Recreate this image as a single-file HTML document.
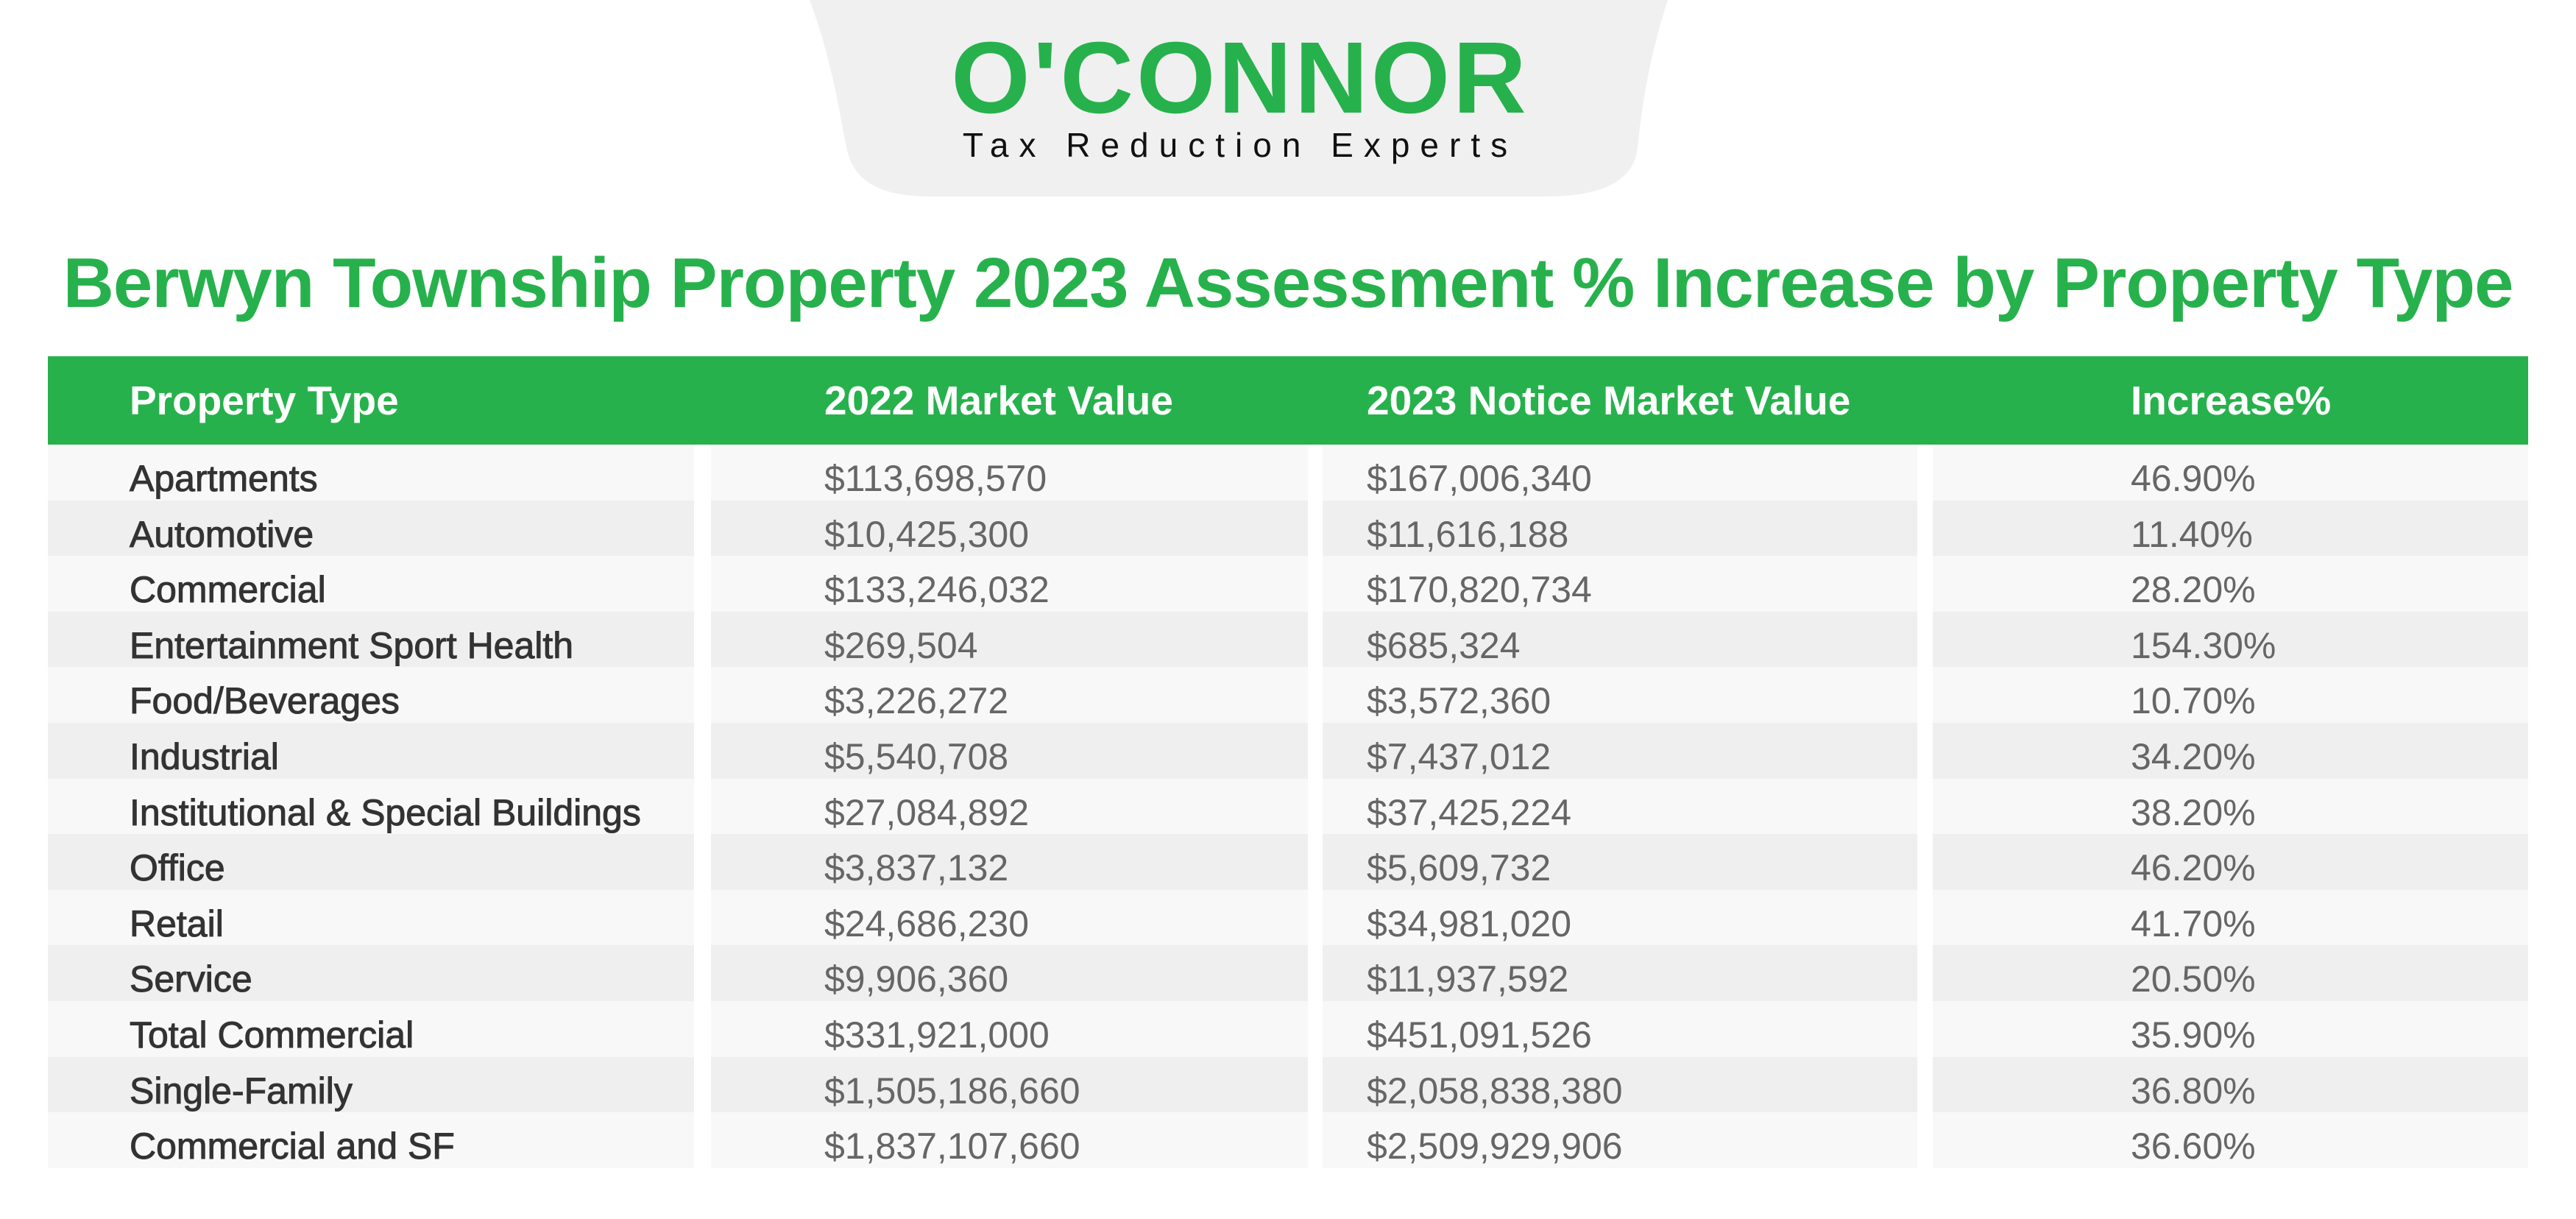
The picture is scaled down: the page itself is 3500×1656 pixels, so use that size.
<!DOCTYPE html>
<html><head><meta charset="utf-8"><style>
html,body{margin:0;padding:0;background:#fff;}
body{width:3500px;height:1656px;position:relative;overflow:hidden;font-family:"Liberation Sans",sans-serif;}
.abs{position:absolute;}
#title{left:0;width:3500px;top:330px;text-align:center;font-weight:bold;font-size:96px;color:#27b14c;white-space:nowrap;letter-spacing:-1px;}
.hdr{top:484px;height:120px;background:#27b14c;left:65px;width:3370px;}
.ht{color:#fff;font-weight:bold;font-size:55px;line-height:120px;top:484px;white-space:nowrap;}
.cell{height:75.6px;}
.txt{font-size:50px;line-height:75.6px;white-space:nowrap;color:#666;margin-top:9px;}
.c1{color:#333;-webkit-text-stroke:1px #333;}
</style></head><body>
<svg class="abs" style="left:0;top:0" width="3500" height="300">
<path d="M1100 0 L2266 0 C2240 80 2230 150 2225 200 C2220 250 2170 267 2098 267 L1268 267 C1200 267 1160 250 1150 200 C1140 150 1130 80 1100 0 Z" fill="#f0f0f0"/>
</svg>
<div class="abs" style="left:1240px;top:36px;width:890px;text-align:center;font-weight:bold;font-size:138px;color:#27b14c;line-height:140px;letter-spacing:4px;">O'CONNOR</div>
<div class="abs" style="left:1250px;top:172px;width:870px;text-align:center;font-size:46px;color:#111;letter-spacing:14px;line-height:50px;">Tax Reduction Experts</div>
<div id="title" class="abs">Berwyn Township Property 2023 Assessment % Increase by Property Type</div>
<div class="abs hdr"></div>
<div class="abs ht" style="left:176px">Property Type</div>
<div class="abs ht" style="left:1120px">2022 Market Value</div>
<div class="abs ht" style="left:1857px">2023 Notice Market Value</div>
<div class="abs ht" style="left:2895px">Increase%</div>
<div id="rows"></div>
<script>
const types=["Apartments","Automotive","Commercial","Entertainment Sport Health","Food/Beverages","Industrial","Institutional & Special Buildings","Office","Retail","Service","Total Commercial","Single-Family","Commercial and SF"];
const v2022=["$113,698,570","$10,425,300","$133,246,032","$269,504","$3,226,272","$5,540,708","$27,084,892","$3,837,132","$24,686,230","$9,906,360","$331,921,000","$1,505,186,660","$1,837,107,660"];
const v2023=["$167,006,340","$11,616,188","$170,820,734","$685,324","$3,572,360","$7,437,012","$37,425,224","$5,609,732","$34,981,020","$11,937,592","$451,091,526","$2,058,838,380","$2,509,929,906"];
const incr=["46.90%","11.40%","28.20%","154.30%","10.70%","34.20%","38.20%","46.20%","41.70%","20.50%","35.90%","36.80%","36.60%"];
const cols=[[65,943,176],[966,1777,1120],[1797,2605,1857],[2626,3435,2895]];
const root=document.getElementById('rows');
types.forEach((t,i)=>{
  const y=604+i*75.6;
  const vals=[t,v2022[i],v2023[i],incr[i]];
  cols.forEach((c,j)=>{
    const bg=document.createElement('div');
    bg.className='abs cell';
    bg.style.cssText=`left:${c[0]}px;width:${c[1]-c[0]}px;top:${y}px;background:${i%2?'#efefef':'#f8f8f8'}`;
    
    
    root.appendChild(bg);
    const tx=document.createElement('div');
    tx.className='abs txt'+(j===0?' c1':'');
    tx.style.cssText+=`left:${c[2]}px;top:${y}px;`;
    tx.textContent=vals[j];
    
    
    root.appendChild(tx);
  });
});
</script>
</body></html>
